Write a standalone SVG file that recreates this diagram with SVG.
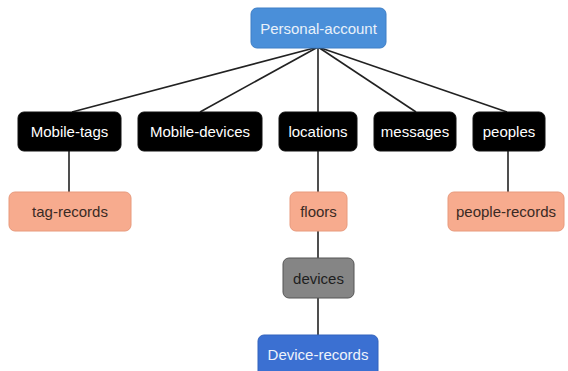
<svg xmlns="http://www.w3.org/2000/svg" width="568" height="371" viewBox="0 0 568 371">
<style>
text{font-family:"Liberation Sans",Arial,sans-serif;font-size:15px;text-anchor:middle;dominant-baseline:central}
.blk rect{fill:#000;stroke:#111;stroke-width:1}
.blk text{fill:#fff}
.org rect{fill:#f7ab8e;stroke:#e89a7d;stroke-width:1}
.org text{fill:#3a2a24}
.ln{stroke:#222;stroke-width:1.6;fill:none}
</style>
<rect width="568" height="371" fill="#fff"/>
<g id="connectors">
<line class="ln" x1="318" y1="47" x2="72" y2="112"/>
<line class="ln" x1="318" y1="47" x2="200" y2="112"/>
<line class="ln" x1="318" y1="47" x2="318" y2="112"/>
<line class="ln" x1="318" y1="47" x2="416" y2="112"/>
<line class="ln" x1="318" y1="47" x2="507" y2="112"/>
<line class="ln" x1="69" y1="151" x2="69" y2="192"/>
<line class="ln" x1="318" y1="151" x2="318" y2="192"/>
<line class="ln" x1="508" y1="151" x2="508" y2="192"/>
<line class="ln" x1="318" y1="231" x2="318" y2="258"/>
<line class="ln" x1="318" y1="298" x2="318" y2="335"/>
</g>
<g id="personal-account">
<rect x="251" y="8" width="135" height="40" rx="6" fill="#4a8fd9" stroke="#3f7fc6"/>
<text x="318.5" y="28" fill="#e9f1fa">Personal-account</text>
</g>
<g id="mobile-tags" class="blk"><rect x="18" y="112" width="103" height="39" rx="6"/><text x="69.5" y="131.5">Mobile-tags</text></g>
<g id="mobile-devices" class="blk"><rect x="138" y="112" width="124" height="39" rx="6"/><text x="200" y="131.5">Mobile-devices</text></g>
<g id="locations" class="blk"><rect x="279" y="112" width="78" height="39" rx="6"/><text x="318" y="131.5">locations</text></g>
<g id="messages" class="blk"><rect x="374" y="112" width="82" height="39" rx="6"/><text x="415" y="131.5">messages</text></g>
<g id="peoples" class="blk"><rect x="473" y="112" width="72" height="39" rx="6"/><text x="509" y="131.5">peoples</text></g>
<g id="tag-records" class="org"><rect x="9" y="192" width="122" height="39" rx="6"/><text x="70" y="211.5">tag-records</text></g>
<g id="floors" class="org"><rect x="290" y="192" width="57" height="39" rx="6"/><text x="318.5" y="211.5">floors</text></g>
<g id="people-records" class="org"><rect x="448" y="192" width="116" height="39" rx="6"/><text x="506" y="211.5">people-records</text></g>
<g id="devices"><rect x="283" y="258" width="71" height="40" rx="6" fill="#858585" stroke="#555"/><text x="318.5" y="278" fill="#1e1e1e">devices</text></g>
<g id="device-records"><rect x="258" y="335" width="120" height="44" rx="6" fill="#3b70d2" stroke="#3363bd"/><text x="318" y="354" fill="#eef3fb">Device-records</text></g>
</svg>
